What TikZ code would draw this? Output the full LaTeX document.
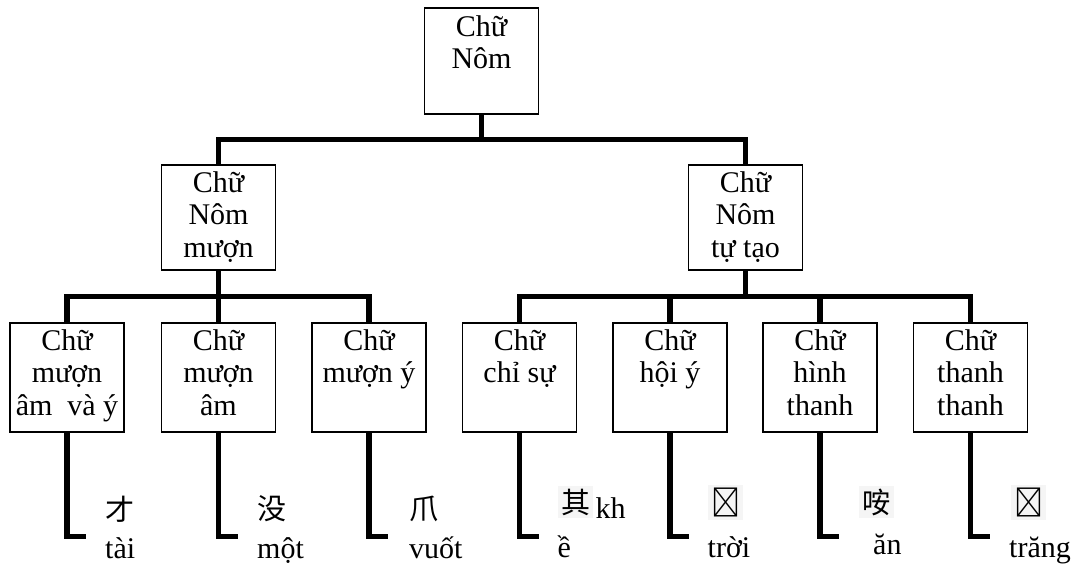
\documentclass[tikz,border=0pt]{standalone}
\usepackage{fontspec}
\setmainfont{Liberation Serif}
\newfontfamily\cjk{Noto Sans CJK SC}
\newfontfamily\cjktc{Noto Sans CJK TC}
\begin{document}
\begin{tikzpicture}[x=1pt,y=-1pt,
  box/.style={draw, line width=1.3pt, minimum width=114pt, inner sep=0pt},
  txt/.style={align=center, inner sep=0pt, anchor=north, font=\fontsize{30}{32.5}\selectfont},
  bar/.style={line width=5.5pt},
  lab/.style={inner sep=0pt, anchor=base west, font=\fontsize{30}{32.5}\selectfont},
  han/.style={inner sep=0pt, anchor=west, font=\cjk\fontsize{29}{29}\selectfont},
  hanbg/.style={han, fill=black!4, inner sep=3pt}
]
\useasboundingbox (0,0) rectangle (1072,563);

% boxes
\node[box, minimum height=106pt] (r) at (481.5,61) {};
\node[box, minimum height=105pt] (ml) at (218.5,217.5) {};
\node[box, minimum height=105pt] (mr) at (745.5,217.5) {};
\foreach \n/\x in {1/67,2/218.5,3/369,4/519.5,5/670,6/820,7/970.5}
  \node[box, minimum height=109pt] (l\n) at (\x,377.5) {};

% texts in boxes
\node[txt] (rt) at ([yshift=-8pt]r.north) {Chữ\\Nôm};
\node[txt] (mlt) at ([yshift=-7pt]ml.north) {Chữ\\Nôm\\mượn};
\node[txt] (mrt) at ([yshift=-7pt]mr.north) {Chữ\\Nôm\\tự tạo};
\node[txt] (l1t) at ([yshift=-7pt]l1.north) {Chữ\\mượn\\âm\ \ và ý};
\node[txt] (l2t) at ([yshift=-7pt]l2.north) {Chữ\\mượn\\âm};
\node[txt] (l3t) at ([yshift=-7pt]l3.north) {Chữ\\mượn ý};
\node[txt] (l4t) at ([yshift=-7pt]l4.north) {Chữ\\chỉ sự};
\node[txt] (l5t) at ([yshift=-7pt]l5.north) {Chữ\\hội ý};
\node[txt] (l6t) at ([yshift=-7pt]l6.north) {Chữ\\hình\\thanh};
\node[txt] (l7t) at ([yshift=-7pt]l7.north) {Chữ\\thanh\\thanh};

% junctions
\coordinate (j0) at (481.5,139.5);
\coordinate (j1) at (218.5,296.5);
\coordinate (j2) at (745.5,296.5);

\draw[bar] (r.south) -- (j0);
\draw[bar] (ml.north) |- (j0) -| (mr.north);
\draw[bar] (ml.south) -- (l2.north);
\draw[bar] (l1.north) |- (j1) -| (l3.north);
\draw[bar] (mr.south) -- (j2);
\draw[bar] (l4.north) |- (j2) -| (l7.north);
\draw[bar] (l5.north) -- (l5.north |- j2);
\draw[bar] (l6.north) -- (l6.north |- j2);

% feet
\foreach \n/\x in {1/67,2/218.5,3/369,4/519.5,5/670,6/820,7/970.5}{
  \coordinate (f\n) at (\x+19,536.5);
  \draw[bar] (l\n.south) |- (f\n);
}

% examples
\node[han] (h1) at (105,509) {才};
\node[lab] (e1) at (105,558) {tài};
\node[han] (h2) at (257,509) {没};
\node[lab] (e2) at (257,558) {một};
\node[han] (h3) at (409,509) {爪};
\node[lab] (e3) at (409,558) {vuốt};
\node[hanbg] (h4) at (558,502) {其};
\node[lab] (e4a) at (595.5,518) {kh};
\node[lab] (e4b) at (557.5,557.5) {ề};
\node[hanbg, font=\cjktc\fontsize{29}{29}\selectfont] (h5) at (708,502) {𡗶};
\node[lab] (e5) at (707.5,557.5) {trời};
\node[hanbg] (h6) at (859,502) {咹};
\node[lab] (e6) at (873,554) {ăn};
\node[hanbg, font=\cjktc\fontsize{29}{29}\selectfont] (h7) at (1011,502) {𦝄};
\node[lab] (e7) at (1009,557.5) {trăng};
\end{tikzpicture}
\end{document}
